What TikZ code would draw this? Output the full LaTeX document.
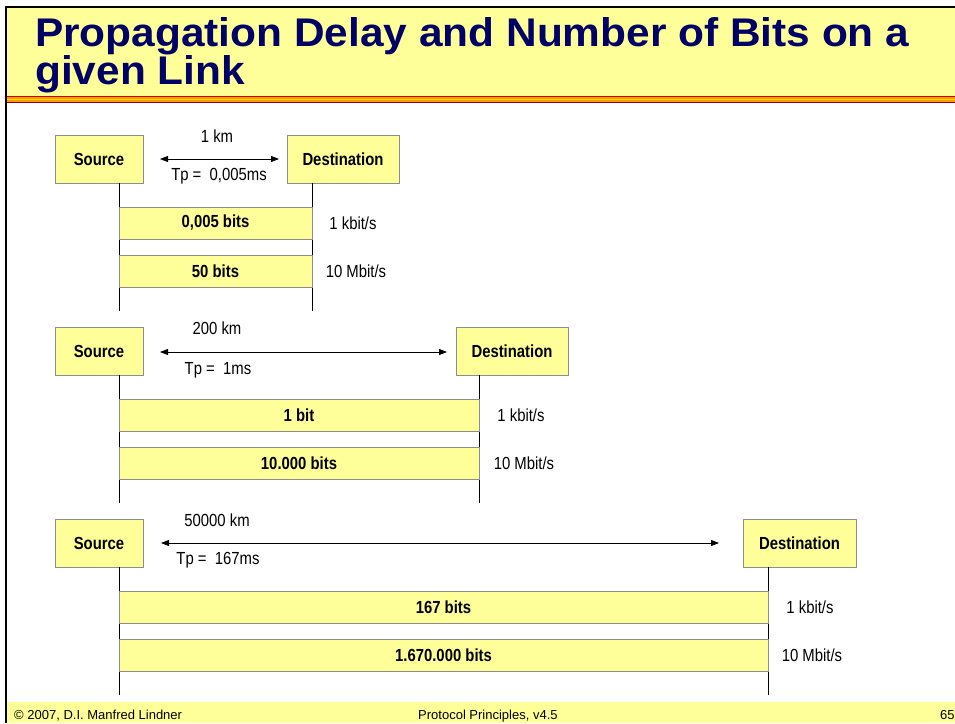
\documentclass[tikz,border=0pt]{standalone}
\usepackage{fontspec}
\setmainfont{Liberation Sans}
\newfontfamily\narrowfont[FakeStretch=0.85]{Liberation Sans}
\newfontfamily\titlefont[FakeStretch=1.06]{Liberation Sans}
\usetikzlibrary{arrows.meta,calc}
\definecolor{lightyel}{HTML}{FFFF99}
\definecolor{titleblue}{HTML}{000066}
\definecolor{boxgray}{HTML}{8C8C8C}
\definecolor{stripred}{HTML}{CC0000}
\definecolor{stripdark}{HTML}{880000}
\definecolor{striporange}{HTML}{FF9900}
\definecolor{stripyel}{HTML}{FFDD00}
\begin{document}
\begin{tikzpicture}[x=1pt,y=-1pt,
  entity/.style={draw=boxgray,fill=lightyel,line width=0.8pt,minimum height=48pt,inner sep=0pt,
    font=\narrowfont\bfseries\fontsize{17.5}{20}\selectfont},
  bitbar/.style={draw=boxgray,fill=lightyel,line width=0.8pt,minimum height=32pt,inner sep=0pt,
    font=\narrowfont\bfseries\fontsize{17.5}{20}\selectfont},
  lbl/.style={inner sep=0pt,font=\narrowfont\fontsize{17.5}{20}\selectfont},
  lifeline/.style={line width=0.9pt,black},
  dist/.style={line width=0.8pt,{Triangle[length=8pt,width=6pt]}-{Triangle[length=8pt,width=6pt]}},
  foot/.style={inner sep=0pt,anchor=base west,font=\fontsize{13}{15}\selectfont}]
\useasboundingbox (0,0) rectangle (955,723);
% background / header
\fill[white] (0,0) rectangle (955,723);
\fill[lightyel] (7,8) rectangle (955,96);
\fill[stripred] (7,96) rectangle (955,97.3);
\fill[striporange] (7,97.3) rectangle (955,98.6);
\fill[stripyel] (7,98.6) rectangle (955,100.2);
\fill[striporange] (7,100.2) rectangle (955,101.6);
\fill[stripdark] (7,101.6) rectangle (955,103);
\fill[lightyel] (7,702) rectangle (955,723);
\draw[line width=2pt] (6,723) -- (6,7) -- (955,7);
\node[anchor=base west,inner sep=0pt,text=titleblue,align=left,
  font=\titlefont\bfseries\fontsize{40}{38}\selectfont] (title) at (35,84)
  {Propagation Delay and Number of Bits on a\\given Link};
% footer
\node[foot] (f1) at (14,719) {\textcopyright\ 2007, D.I. Manfred Lindner};
\node[foot] (f2) at (418,719) {Protocol Principles, v4.5};
\node[foot] (f3) at (940,719) {65};

% ===== section 1 =====
\node[entity,minimum width=88pt] (s1) at (99,159) {Source};
\node[entity,minimum width=112pt] (d1) at (343,159) {Destination};
\coordinate (a1l) at (160,159);
\coordinate (a1r) at (279,159);
\draw[dist] (a1l) -- (a1r);
\node[lbl] (k1) at (217,136) {1 km};
\node[lbl] (t1) at (219,176) {Tp =\ \ 0,005ms};
\coordinate (s1b) at (119,183);
\coordinate (s1e) at (119,311);
\coordinate (d1b) at (312,183);
\coordinate (d1e) at (312,311);
\draw[lifeline] (s1b) -- (s1e);
\draw[lifeline] (d1b) -- (d1e);
\node[bitbar,minimum width=193pt] (b11) at (215.5,223) {0,005 bits};
\node[bitbar,minimum width=193pt] (b12) at (215.5,271) {50 bits};
\node[lbl] (r11) at (353,223) {1 kbit/s};
\node[lbl] (r12) at (356,271) {10 Mbit/s};

% ===== section 2 =====
\node[entity,minimum width=88pt] (s2) at (99,351) {Source};
\node[entity,minimum width=112pt] (d2) at (512,351) {Destination};
\coordinate (a2l) at (160,352);
\coordinate (a2r) at (447,352);
\draw[dist] (a2l) -- (a2r);
\node[lbl] (k2) at (217,328) {200 km};
\node[lbl] (t2) at (218,370) {Tp =\ \ 1ms};
\coordinate (s2b) at (119,375);
\coordinate (s2e) at (119,503);
\coordinate (d2b) at (479,375);
\coordinate (d2e) at (479,503);
\draw[lifeline] (s2b) -- (s2e);
\draw[lifeline] (d2b) -- (d2e);
\node[bitbar,minimum width=360pt] (b21) at (299,415) {1 bit};
\node[bitbar,minimum width=360pt] (b22) at (299,463) {10.000 bits};
\node[lbl] (r21) at (521,415) {1 kbit/s};
\node[lbl] (r22) at (524,463) {10 Mbit/s};

% ===== section 3 =====
\node[entity,minimum width=88pt] (s3) at (99,543) {Source};
\node[entity,minimum width=113pt] (d3) at (799.5,543) {Destination};
\coordinate (a3l) at (161,543);
\coordinate (a3r) at (719,543);
\draw[dist] (a3l) -- (a3r);
\node[lbl] (k3) at (217,520) {50000 km};
\node[lbl] (t3) at (218,560) {Tp =\ \ 167ms};
\coordinate (s3b) at (119,567);
\coordinate (s3e) at (119,695);
\coordinate (d3b) at (768,567);
\coordinate (d3e) at (768,695);
\draw[lifeline] (s3b) -- (s3e);
\draw[lifeline] (d3b) -- (d3e);
\node[bitbar,minimum width=649pt] (b31) at (443.5,607) {167 bits};
\node[bitbar,minimum width=649pt] (b32) at (443.5,655) {1.670.000 bits};
\node[lbl] (r31) at (810,607) {1 kbit/s};
\node[lbl] (r32) at (812,655) {10 Mbit/s};
\end{tikzpicture}
\end{document}
